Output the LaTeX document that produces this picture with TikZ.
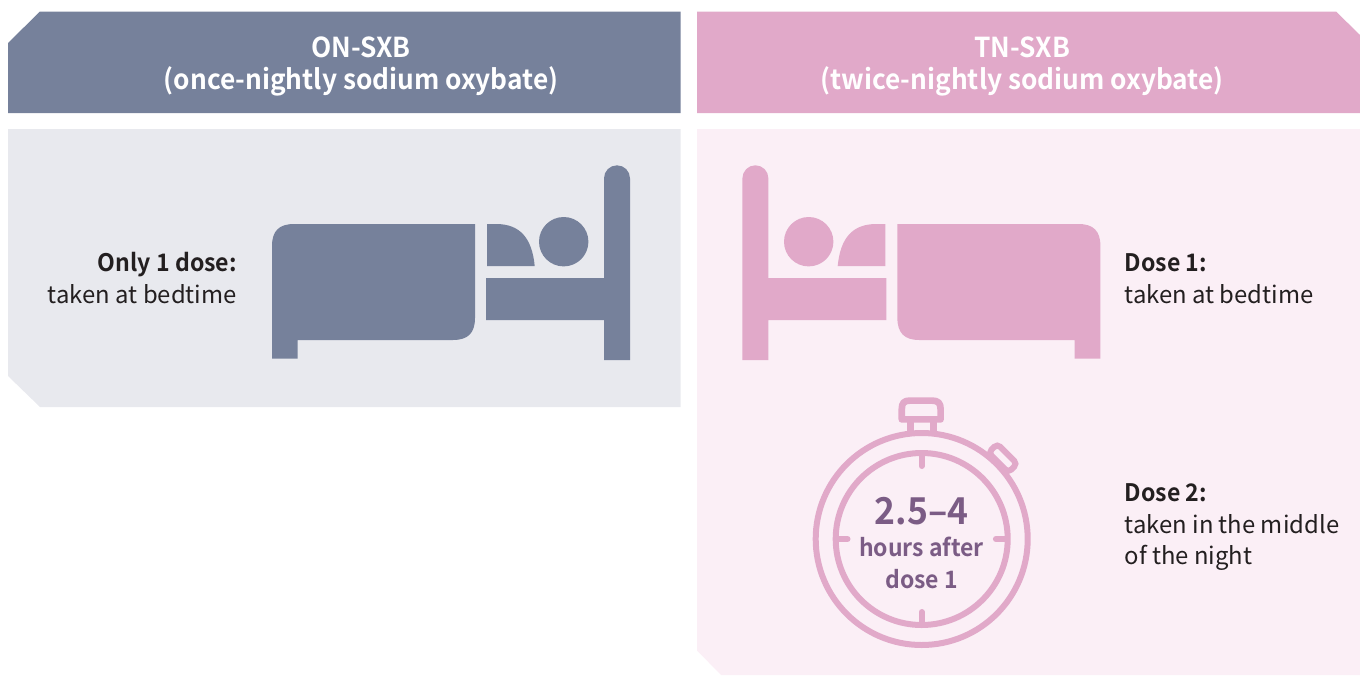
\documentclass[tikz,border=0pt]{standalone}
\usepackage{fontspec}
\setmainfont{Noto Sans CJK SC}
\newfontfamily\semif[FakeStretch=0.957]{Noto Sans CJK SC Bold}
\definecolor{slate}{HTML}{76819B}
\definecolor{slatelight}{HTML}{E8E9EE}
\definecolor{rose}{HTML}{E1A9C9}
\definecolor{roselight}{HTML}{FBEFF6}
\definecolor{inktext}{HTML}{231F20}
\definecolor{plum}{HTML}{7B5C85}
\newcommand{\fsz}[1]{\fontsize{#1}{#1}\selectfont}
\tikzset{
  headtxt/.style={text=white,font=\fsz{20.6}\semif,anchor=base,inner sep=0pt},
  bodytxt/.style={text=inktext,font=\fsz{17.9},anchor=base west,inner sep=0pt},
  bodybold/.style={bodytxt,font=\fsz{18.1}\semif},
  ringline/.style={draw=rose,line width=4.5pt},
  crownline/.style={draw=rose,line width=5pt},
  tick/.style={draw=rose,line width=4.5pt,line cap=round},
}
\newcommand{\bedicon}{%
  \fill (272,358.7) -- (272,246) .. controls (272,231) and (279,224) .. (294,224) -- (475,224)
     -- (475,318) .. controls (475,333) and (468,340) .. (453,340) -- (297.7,340) -- (297.7,358.7) -- cycle;
  \fill (487,224) -- (496,224) .. controls (520,224) and (532,238) .. (534.7,266) -- (487,266) -- cycle;
  \fill (563.7,241.7) circle (24.7);
  \fill (486,278) -- (604,278) -- (604,178.3) arc[start angle=180,end angle=0,x radius=13,y radius=-13]
     -- (630,360) -- (604,360) -- (604,320) -- (486,320) -- cycle;
}
\begin{document}
\begin{tikzpicture}[x=0.75pt,y=-0.75pt]
\useasboundingbox (0,0) rectangle (1360,675);
% headers
\fill[slate] (8,43) -- (40,11.5) -- (680.5,11.5) -- (680.5,113) -- (8,113) -- cycle;
\fill[rose] (697,11.5) -- (1336,11.5) -- (1360,35) -- (1360,113) -- (697,113) -- cycle;
% panels
\fill[slatelight] (8,129) -- (680.5,129) -- (680.5,407) -- (40,407) -- (8,376) -- cycle;
\fill[roselight] (697,129) -- (1360,129) -- (1360,675) -- (721,675) -- (697,650.5) -- cycle;
% beds
\begin{scope}[slate]\bedicon\end{scope}
\begin{scope}[rose,shift={(1372.4,0)},xscale=-1]\bedicon\end{scope}
% stopwatch
\draw[crownline,line join=round] (905,419.4) -- (901.8,419.4) -- (901.8,409)
   .. controls (901.8,403) and (904,400.6) .. (910,400.6) -- (932,400.6)
   .. controls (938,400.6) and (940.6,403) .. (940.6,409) -- (940.6,419.4) -- cycle;
\draw[crownline] (910.7,420) -- (910.7,436) (933.2,420) -- (933.2,436);
\begin{scope}[shift={(1002.8,458.2)},rotate=-45]
  \draw[ringline,fill=roselight,rounded corners=3pt] (-14,-6.2) rectangle (14,6.2);
\end{scope}
\draw[ringline,fill=roselight] (921.7,539) circle (106);
\draw[ringline] (921.7,539) circle (86);
\draw[tick] (921.7,455) -- (921.7,466);
\draw[tick] (921.7,623) -- (921.7,612);
\draw[tick] (837.7,539) -- (847.5,539);
\draw[tick] (1005.7,539) -- (995.9,539);
% text
\node[headtxt] (h1a) at (361,57) {ON-SXB};
\node[headtxt] (h1b) at (361,89) {(once-nightly sodium oxybate)};
\node[headtxt] (h2a) at (1022,57) {TN-SXB};
\node[headtxt] (h2b) at (1022,89) {(twice-nightly sodium oxybate)};
\node[bodybold,anchor=base east] (l1) at (237,271) {Only 1 dose:};
\node[bodytxt,anchor=base east] (l2) at (237,303) {taken at bedtime};
\node[bodybold] (r1) at (1124.5,271) {Dose 1:};
\node[bodytxt] (r2) at (1124.5,303) {taken at bedtime};
\node[bodybold] (r3) at (1124.5,501) {Dose 2:};
\node[bodytxt] (r4) at (1124.5,533) {taken in the middle};
\node[bodytxt] (r5) at (1124.5,564.5) {of the night};
\node[anchor=base,inner sep=0pt,text=plum,font=\fsz{27.8}\semif] (t1) at (921.5,524) {2.5–4};
\node[anchor=base,inner sep=0pt,text=plum,font=\fsz{18}\semif] (t2) at (921.5,556) {hours after};
\node[anchor=base,inner sep=0pt,text=plum,font=\fsz{18}\semif] (t3) at (921.5,588) {dose 1};
\end{tikzpicture}
\end{document}
